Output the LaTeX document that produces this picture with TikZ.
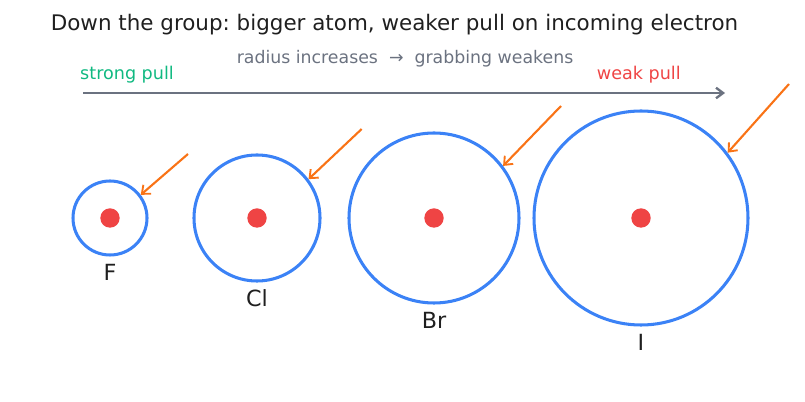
\documentclass[tikz,border=0pt]{standalone}
\usepackage{fontspec}
\setmainfont{DejaVu Sans}
\usetikzlibrary{arrows.meta}
\frenchspacing

\definecolor{shellblue}{HTML}{3B82F6}
\definecolor{nucred}{HTML}{EF4444}
\definecolor{grabor}{HTML}{F97316}
\definecolor{pullgreen}{HTML}{10B981}
\definecolor{axisgray}{HTML}{6B7280}
\definecolor{inkdark}{HTML}{1F1F1F}

\tikzset{
  atom/.style={circle, draw=shellblue, line width=2.6pt, inner sep=0pt},
  nucleus/.style={fill=nucred},
  grab/.style={grabor, line width=1.8pt, -{Straight Barb[length=6pt, width=10pt, line width=1.6pt]}},
  trend/.style={axisgray, line width=2.3pt, -{Straight Barb[length=6pt, width=9pt, line width=2pt]}},
  elem/.style={inkdark, font=\fontsize{19}{22}\selectfont, anchor=base}
}

\begin{document}
\begin{tikzpicture}[x=0.03cm, y=-0.03cm]

\useasboundingbox (0,0) rectangle (805,402);

% 标题
\node[inkdark, font=\fontsize{18.3}{22}\selectfont, anchor=base] (title) at (394.5,30.7)
  {Down the group: bigger atom, weaker pull on incoming electron};

% 趋势说明
\node[axisgray, font=\fontsize{14.8}{17}\selectfont, anchor=base] (trendtext) at (405,63.3)
  {radius increases~~→~~grabbing weakens};
\node[pullgreen, font=\fontsize{15}{17}\selectfont, anchor=base west, inner sep=0pt] (strong) at (80,79.3) {strong pull};
\node[nucred, font=\fontsize{15}{17}\selectfont, anchor=base east, inner sep=0pt] (weak) at (681,79.3) {weak pull};

% 趋势箭头
\coordinate (tL) at (83,93);
\coordinate (tR) at (725,93);
\draw[trend] (tL) -- (tR);

% 原子：名称 / 圆心 x / 半径（像素）
\foreach \name/\cx/\rad in {F/110/37, Cl/257/63, Br/434/85, I/641/107} {
  \node[atom, minimum size=\rad*0.06cm] (\name) at (\cx,218) {};
  \fill[nucleus] (\name.center) circle [radius=9.7];
  \node[elem] (lab\name) at (\cx,{244+\rad}) {\name};
}

% 入射电子（箭头指向外层）
\foreach \name/\sx/\sy in {F/188/154, Cl/361.7/129, Br/561/106, I/789/84} {
  \coordinate (e\name) at (\sx,\sy);
  \draw[grab] (e\name) -- (\name.37.5);
}

\end{tikzpicture}
\end{document}
